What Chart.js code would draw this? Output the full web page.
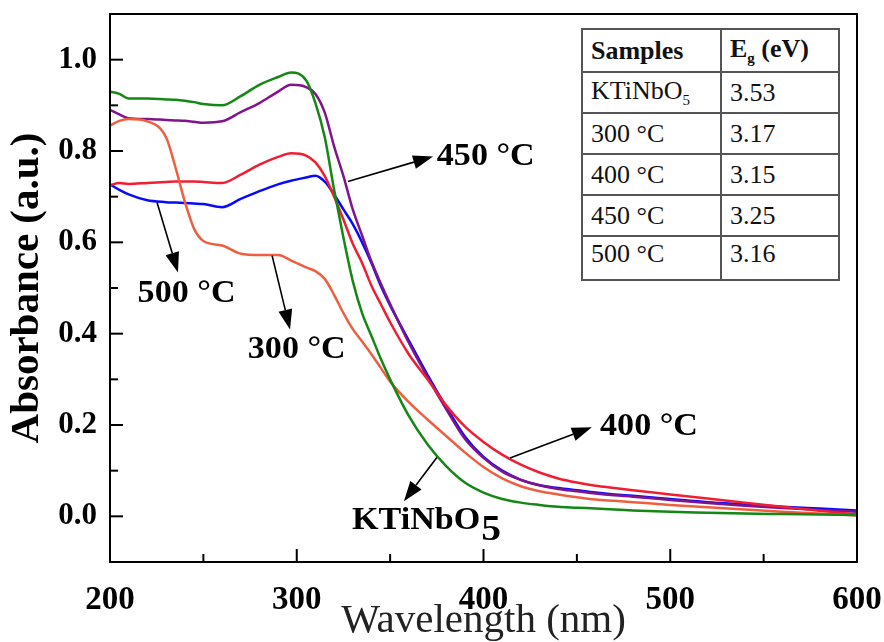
<!DOCTYPE html>
<html>
<head>
<meta charset="utf-8">
<script src="https://cdn.jsdelivr.net/npm/chart.js@4.4.1/dist/chart.umd.min.js"></script>
<style>
  body { margin: 0; background: #fff; }
  #wrap { position: relative; width: 884px; height: 642px; }
  #inset {
    position: absolute; left: 581px; top: 28px;
    border-collapse: collapse;
    font-family: "Liberation Serif", "Times New Roman", serif;
    font-size: 26px; color: #111; background: #fff;
  }
  #inset td { border: 2px solid #555; padding: 0 0 0 8px; height: 39px; }
  #inset td.c1 { width: 129px; }
  #inset td.c2 { width: 108px; }
  #inset tr.head td { font-weight: bold; height: 41px; }
  #inset tr.last td { height: 40px; vertical-align: top; padding-top: 2px; }
  #inset sub { font-size: 15px; }
</style>
</head>
<body>
<div id="wrap">
  <canvas id="myChart" width="884" height="642"></canvas>
  <table id="inset">
    <tr class="head"><td class="c1">Samples</td><td class="c2">E<sub>g</sub> (eV)</td></tr>
    <tr><td class="c1">KTiNbO<sub>5</sub></td><td class="c2">3.53</td></tr>
    <tr><td class="c1">300 &deg;C</td><td class="c2">3.17</td></tr>
    <tr><td class="c1">400 &deg;C</td><td class="c2">3.15</td></tr>
    <tr><td class="c1">450 &deg;C</td><td class="c2">3.25</td></tr>
    <tr class="last"><td class="c1">500 &deg;C</td><td class="c2">3.16</td></tr>
  </table>
</div>
<script>
// wavelength grid (nm)
const wavelengths = [200, 205, 210, 220, 230, 235, 240, 245, 250, 260, 270, 280, 290, 297, 305, 310, 315, 320, 325, 330,
  335, 340, 345, 350, 360, 370, 380, 390, 400, 410, 420, 430, 440, 450, 460, 470, 480, 500, 520, 540, 560, 580, 600];

const absKTiNbO5 = [0.93, 0.925, 0.915, 0.915, 0.913, 0.912, 0.91, 0.907, 0.903, 0.90, 0.92, 0.945, 0.962, 0.972, 0.955, 0.905, 0.83, 0.715, 0.61, 0.515,
  0.445, 0.395, 0.345, 0.30, 0.22, 0.158, 0.11, 0.074, 0.052, 0.038, 0.03, 0.025, 0.021, 0.019, 0.017, 0.015, 0.013, 0.01, 0.008, 0.006, 0.005, 0.004, 0.003];
const abs300 = [0.856, 0.866, 0.87, 0.865, 0.83, 0.765, 0.69, 0.63, 0.603, 0.593, 0.575, 0.572, 0.572, 0.56, 0.545, 0.537, 0.52, 0.485, 0.445, 0.41,
  0.383, 0.355, 0.325, 0.295, 0.25, 0.212, 0.176, 0.14, 0.108, 0.083, 0.066, 0.055, 0.048, 0.042, 0.037, 0.034, 0.031, 0.025, 0.02, 0.015, 0.01, 0.006, 0.002];
const abs400 = [0.725, 0.73, 0.728, 0.73, 0.732, 0.733, 0.733, 0.733, 0.732, 0.73, 0.748, 0.77, 0.787, 0.795, 0.79, 0.775, 0.745, 0.70, 0.65, 0.597,
  0.555, 0.505, 0.465, 0.425, 0.355, 0.30, 0.243, 0.197, 0.163, 0.135, 0.113, 0.096, 0.083, 0.074, 0.067, 0.062, 0.057, 0.048, 0.039, 0.03, 0.021, 0.012, 0.004];
const abs450 = [0.89, 0.88, 0.872, 0.87, 0.868, 0.867, 0.866, 0.864, 0.862, 0.865, 0.885, 0.905, 0.93, 0.945, 0.94, 0.925, 0.884, 0.81, 0.745, 0.672,
  0.615, 0.558, 0.51, 0.465, 0.38, 0.305, 0.235, 0.17, 0.128, 0.098, 0.08, 0.068, 0.06, 0.055, 0.05, 0.046, 0.043, 0.036, 0.029, 0.023, 0.018, 0.014, 0.01];
const abs500 = [0.727, 0.715, 0.705, 0.692, 0.688, 0.687, 0.686, 0.685, 0.684, 0.677, 0.695, 0.712, 0.727, 0.735, 0.742, 0.746, 0.733, 0.705, 0.672, 0.64,
  0.60, 0.555, 0.505, 0.462, 0.385, 0.31, 0.24, 0.175, 0.13, 0.10, 0.08, 0.068, 0.062, 0.057, 0.052, 0.048, 0.045, 0.038, 0.031, 0.026, 0.021, 0.017, 0.013];

const xTicks = [200, 300, 400, 500, 600];
const yTicks = [0.0, 0.2, 0.4, 0.6, 0.8, 1.0];

// callouts in data coordinates: arrow from curve to label
const callouts = [
  { text: '450 °C', from: [327.4, 0.733], to: [373, 0.788], lx: 375, ly: 0.786, align: 'left' },
  { text: '500 °C', from: [225.2, 0.687], to: [236.4, 0.534], lx: 241, ly: 0.486, align: 'center' },
  { text: '300 °C', from: [286.8, 0.571], to: [296.4, 0.409], lx: 300, ly: 0.365, align: 'center' },
  { text: '400 °C', from: [414.2, 0.128], to: [458, 0.195], lx: 462.4, ly: 0.195, align: 'left' },
  { text: 'KTiNbO', sub: '5', from: [375, 0.129], to: [357.4, 0.033], lx: 329.6, ly: -0.011, align: 'left' }
];

const serif = '"Liberation Serif", "Times New Roman", serif';

function series(label, values, color) {
  return {
    label: label,
    data: wavelengths.map((w, i) => ({ x: w, y: values[i] })),
    borderColor: color,
    backgroundColor: color,
    borderWidth: 2.5,
    pointRadius: 0,
    cubicInterpolationMode: 'monotone',
    fill: false
  };
}

const framePlugin = {
  id: 'frame',
  afterDatasetsDraw(chart) {
    const ctx = chart.ctx;
    const a = chart.chartArea;
    const xs = chart.scales.x, ys = chart.scales.y;
    ctx.save();
    ctx.strokeStyle = '#000';
    ctx.lineWidth = 2;
    ctx.strokeRect(a.left, a.top, a.right - a.left, a.bottom - a.top);
    // inward ticks
    for (let v = 200; v <= 600; v += 50) {
      const px = xs.getPixelForValue(v);
      const len = v % 100 === 0 ? 13 : 8;
      ctx.beginPath(); ctx.moveTo(px, a.bottom); ctx.lineTo(px, a.bottom - len); ctx.stroke();
    }
    for (let k = 0; k <= 11; k++) {
      const v = k / 10;
      const py = ys.getPixelForValue(v);
      const len = k % 2 === 0 ? 13 : 8;
      ctx.beginPath(); ctx.moveTo(a.left, py); ctx.lineTo(a.left + len, py); ctx.stroke();
    }
    // callouts
    ctx.lineWidth = 1.6;
    ctx.fillStyle = '#000';
    const sx = 1.1;
    callouts.forEach(c => {
      const x1 = xs.getPixelForValue(c.from[0]), y1 = ys.getPixelForValue(c.from[1]);
      const x2 = xs.getPixelForValue(c.to[0]), y2 = ys.getPixelForValue(c.to[1]);
      const ang = Math.atan2(y2 - y1, x2 - x1);
      const hl = 20, hw = 7;
      const bx = x2 - hl * Math.cos(ang), by = y2 - hl * Math.sin(ang);
      ctx.beginPath(); ctx.moveTo(x1, y1); ctx.lineTo(bx, by); ctx.stroke();
      ctx.beginPath();
      ctx.moveTo(x2, y2);
      ctx.lineTo(bx + hw * Math.sin(ang), by - hw * Math.cos(ang));
      ctx.lineTo(bx - hw * Math.sin(ang), by + hw * Math.cos(ang));
      ctx.closePath(); ctx.fill();

      const lx = xs.getPixelForValue(c.lx), ly = ys.getPixelForValue(c.ly);
      ctx.save();
      ctx.translate(lx, ly);
      ctx.scale(sx, 1);
      ctx.font = 'bold 31px ' + serif;
      ctx.textBaseline = 'middle';
      ctx.textAlign = c.align;
      ctx.fillText(c.text, 0, 0);
      if (c.sub) {
        const w = ctx.measureText(c.text).width;
        ctx.textAlign = 'left';
        ctx.font = 'bold 36px ' + serif;
        ctx.fillText(c.sub, w + 1, 9);
      }
      ctx.restore();
    });
    ctx.restore();
  }
};

const config = {
  type: 'line',
  data: {
    datasets: [
      series('KTiNbO5', absKTiNbO5, 'rgb(20,135,20)'),
      series('300 °C', abs300, 'rgb(238,95,65)'),
      series('400 °C', abs400, 'rgb(240,30,50)'),
      series('450 °C', abs450, 'rgb(128,20,140)'),
      series('500 °C', abs500, 'rgb(10,10,250)')
    ]
  },
  options: {
    responsive: false,
    animation: false,
    layout: { padding: { top: 14, right: 27, left: 0, bottom: 0 } },
    plugins: { legend: { display: false }, tooltip: { enabled: false } },
    scales: {
      x: {
        type: 'linear', min: 200, max: 600,
        grid: { display: false, drawTicks: false },
        border: { display: false },
        afterBuildTicks: s => { s.ticks = xTicks.map(v => ({ value: v })); },
        afterFit: s => { s.height = 80; s.paddingLeft = 0; s.paddingRight = 0; },
        ticks: { color: '#000', padding: 19, maxRotation: 0, font: { family: serif, size: 33, weight: 'bold' } },
        title: { display: true, text: 'Wavelength (nm)', color: '#222', padding: 0,
          font: { family: serif, size: 41, lineHeight: 1 } }
      },
      y: {
        type: 'linear', min: -0.1, max: 1.1,
        grid: { display: false, drawTicks: false },
        border: { display: false },
        afterBuildTicks: s => { s.ticks = yTicks.map(v => ({ value: v })); },
        afterFit: s => { s.width = 110; s.paddingTop = 0; s.paddingBottom = 0; },
        ticks: { color: '#000', padding: 13, font: { family: serif, size: 31, weight: 'bold' },
          callback: v => v.toFixed(1) },
        title: { display: true, text: 'Absorbance (a.u.)', color: '#000', padding: { top: 7, bottom: 0 },
          font: { family: serif, size: 41, weight: 'bold', lineHeight: 1 } }
      }
    }
  },
  plugins: [framePlugin]
};

const myChart = new Chart(document.getElementById('myChart'), config);
</script>
</body>
</html>
